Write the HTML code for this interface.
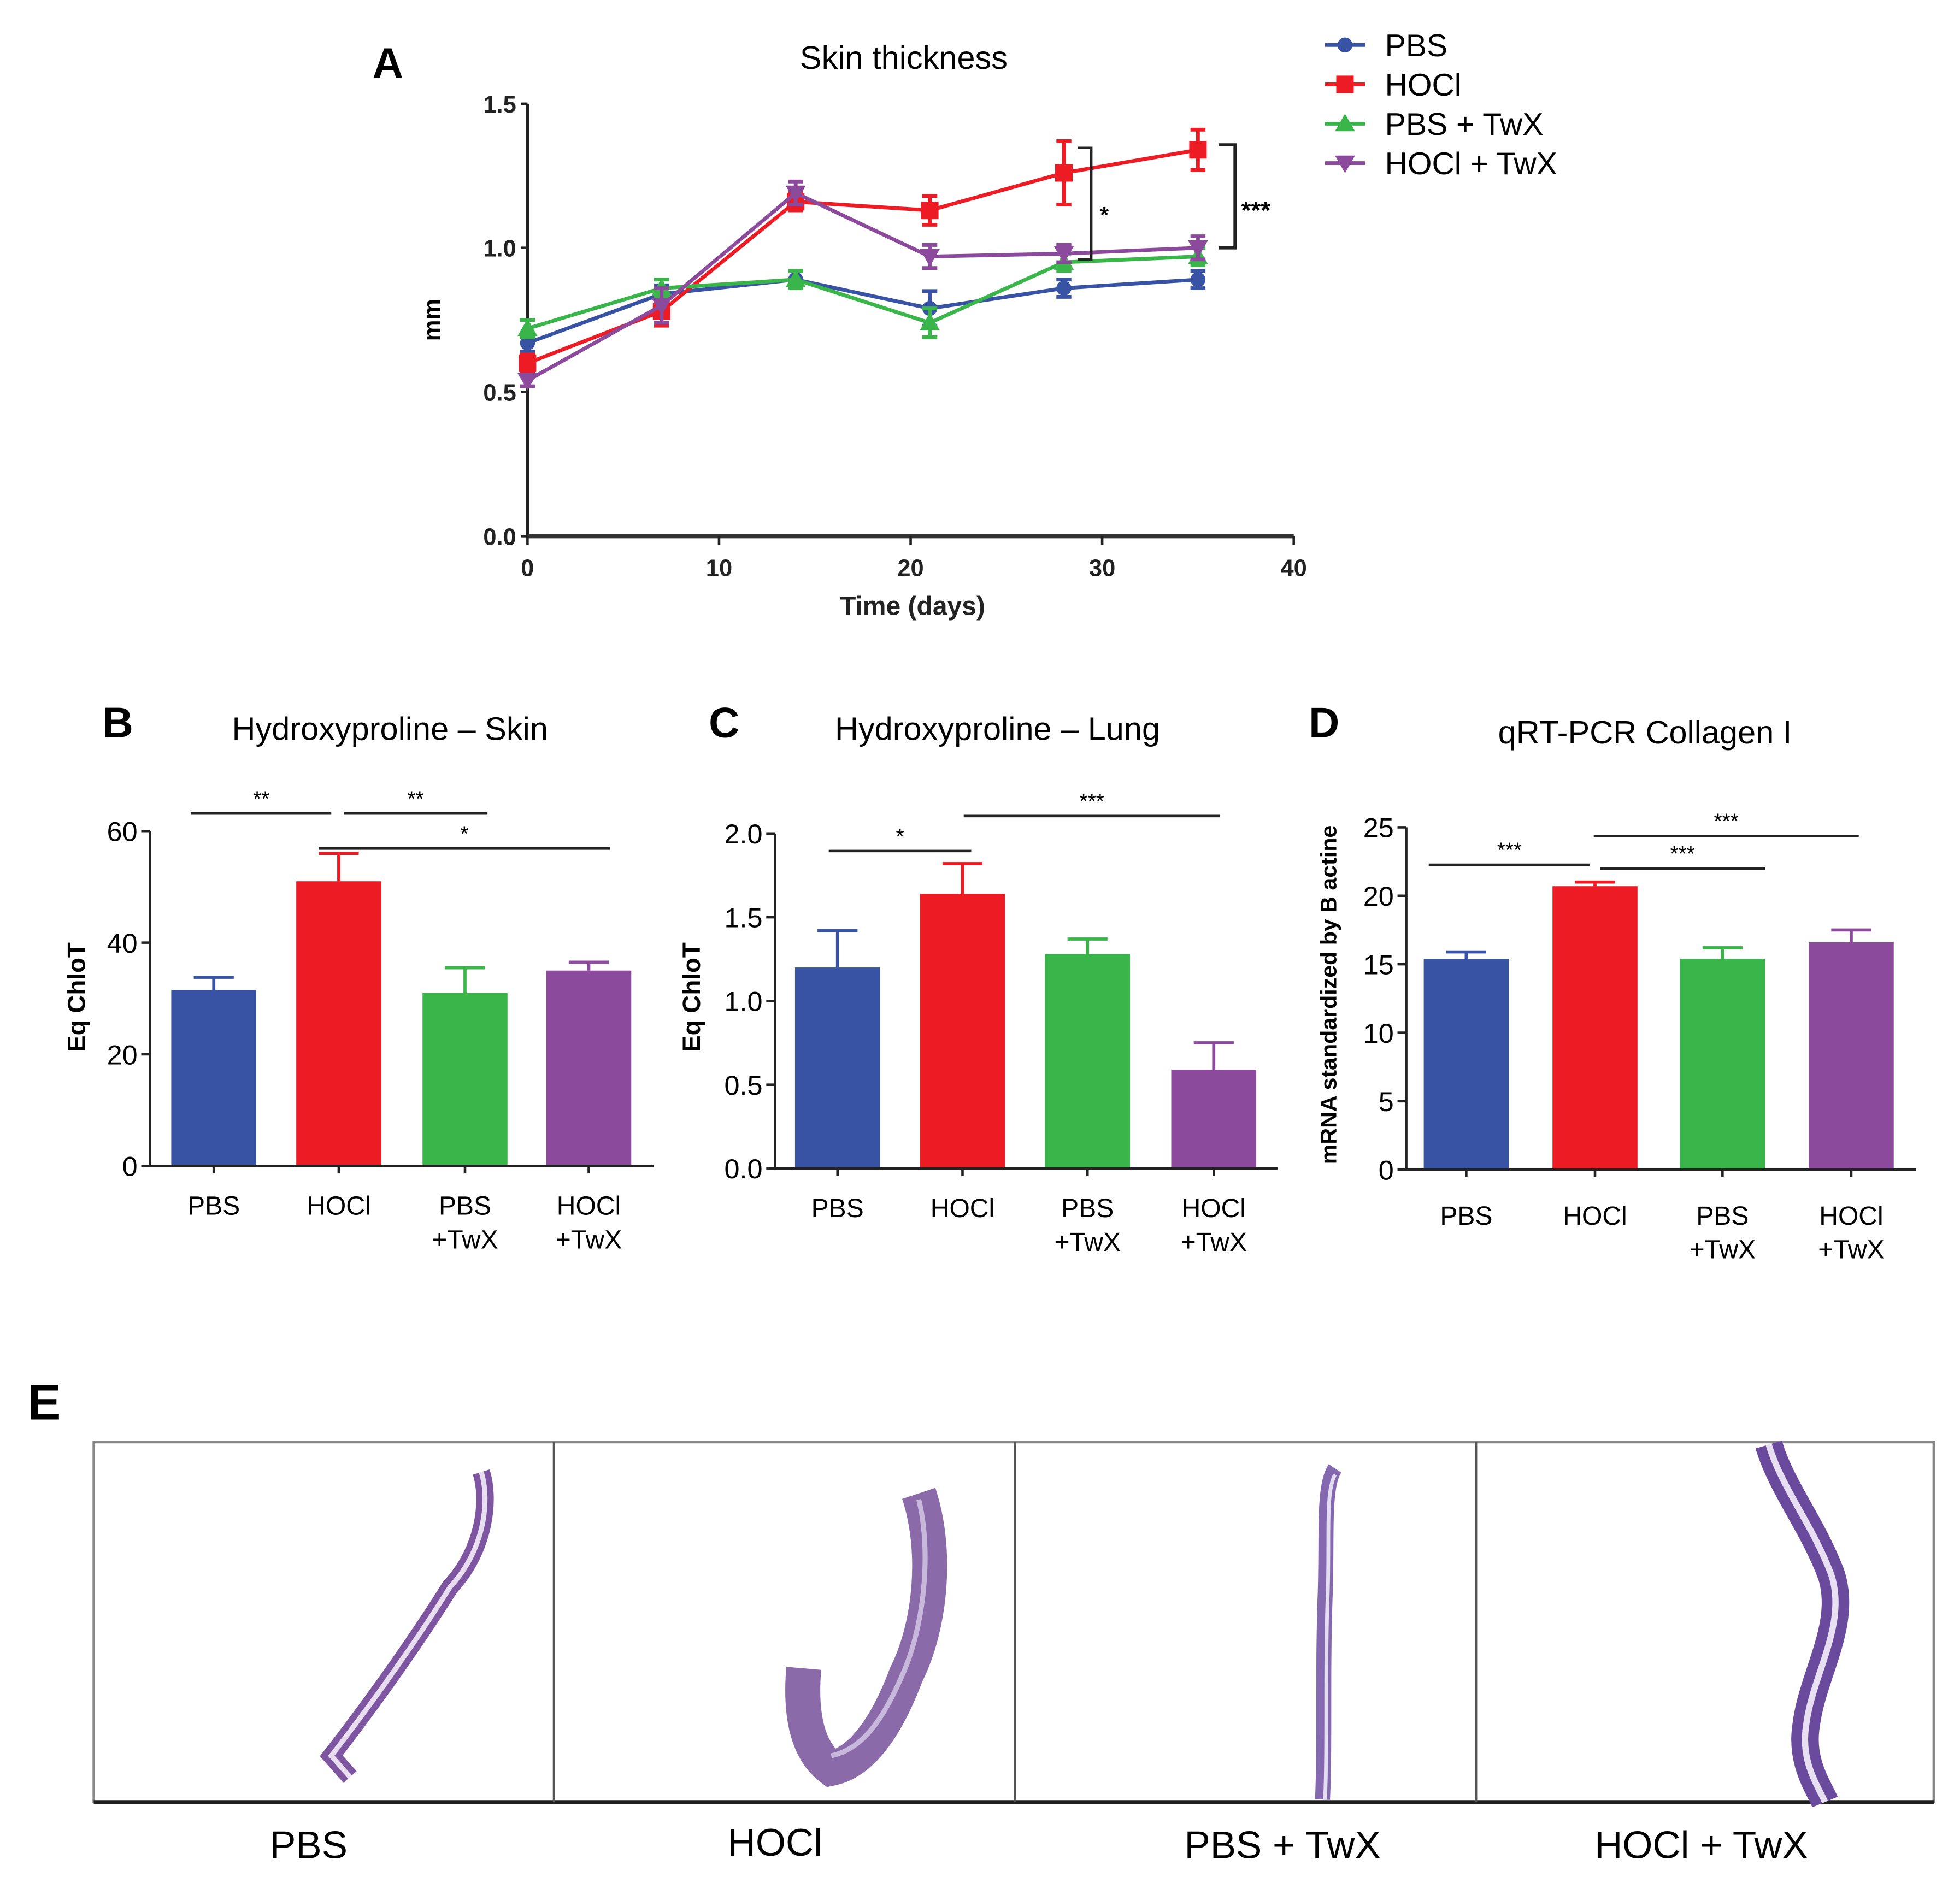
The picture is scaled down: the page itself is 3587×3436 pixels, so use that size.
<!DOCTYPE html>
<html><head><meta charset="utf-8"><style>
html,body{margin:0;padding:0;background:#fff}
svg{display:block}
text{font-family:"Liberation Sans",Arial,sans-serif}
</style></head><body>
<svg id="fig" xmlns="http://www.w3.org/2000/svg" width="3587" height="3436" viewBox="0 0 1568 1502">
<rect width="1568" height="1502" fill="#fff"/>
<g id="A"></g>
<g id="B"></g>
<g id="C"></g>
<g id="D"></g>
<g id="E">
 <text x="22" y="1136" font-size="40" font-weight="bold">E</text>
 <rect x="75" y="1154" width="1472" height="288" fill="none" stroke="#888" stroke-width="2"/>
 <line x1="75" y1="1442" x2="1547" y2="1442" stroke="#222" stroke-width="3"/>
 <line x1="443" y1="1154" x2="443" y2="1442" stroke="#555" stroke-width="1.5"/>
 <line x1="812" y1="1154" x2="812" y2="1442" stroke="#555" stroke-width="1.5"/>
 <line x1="1181" y1="1154" x2="1181" y2="1442" stroke="#555" stroke-width="1.5"/>
 <g fill="none" stroke="#7d55a0">
  <path d="M385,1178 C392,1200 388,1240 360,1270 C335,1310 300,1360 265,1405 L280,1422" stroke-width="14"/>
  <path d="M385,1178 C392,1200 388,1240 360,1270 C335,1310 300,1360 265,1405 L280,1422" stroke="#e8def0" stroke-width="4"/>
 </g>
 <g fill="none" stroke="#8a6aa8">
  <path d="M735,1195 C750,1240 745,1300 725,1340 C710,1380 690,1410 665,1415 C645,1400 640,1370 643,1335" stroke-width="28"/>
  <path d="M735,1200 C745,1240 740,1300 722,1340 C705,1380 688,1400 665,1405" stroke="#c8b8dc" stroke-width="4"/>
 </g>
 <g fill="none" stroke="#8468b0">
  <path d="M1068,1175 C1058,1190 1062,1230 1060,1280 C1058,1340 1060,1400 1058,1440" stroke-width="12"/>
  <path d="M1068,1180 C1060,1195 1064,1230 1062,1280 C1060,1340 1062,1400 1060,1440" stroke="#e4dcf0" stroke-width="3"/>
 </g>
 <g fill="none" stroke="#6a4a9c">
  <path d="M1415,1156 C1425,1190 1450,1220 1465,1260 C1478,1300 1450,1340 1445,1380 C1440,1410 1455,1430 1460,1442" stroke-width="22"/>
  <path d="M1415,1156 C1425,1190 1450,1220 1465,1260 C1478,1300 1450,1340 1445,1380 C1440,1410 1455,1430 1460,1442" stroke="#e8e0f2" stroke-width="5"/>
 </g>
 <text x="247" y="1487" font-size="31" text-anchor="middle">PBS</text>
 <text x="620" y="1485" font-size="31" text-anchor="middle">HOCl</text>
 <text x="1026" y="1487" font-size="31" text-anchor="middle">PBS + TwX</text>
 <text x="1361" y="1487" font-size="31" text-anchor="middle">HOCl + TwX</text>
</g>
</svg>
<script>
const NS="http://www.w3.org/2000/svg";
const colors=["#3953a4","#ed1c24","#39b54a","#8b4a9c"];
// Panel A data
const daysA=[0,7,14,21,28,35];
const pbsA=[0.67,0.84,0.89,0.79,0.86,0.89];
const pbsErrA=[0.03,0.03,0.03,0.06,0.03,0.03];
const hoclA=[0.60,0.78,1.16,1.13,1.26,1.34];
const hoclErrA=[0.03,0.05,0.03,0.05,0.11,0.07];
const pbsTwxA=[0.72,0.86,0.89,0.74,0.95,0.97];
const pbsTwxErrA=[0.03,0.03,0.03,0.05,0.03,0.03];
const hoclTwxA=[0.54,0.80,1.19,0.97,0.98,1.00];
const hoclTwxErrA=[0.02,0.06,0.04,0.04,0.03,0.04];
const seriesNamesA=["PBS","HOCl","PBS + TwX","HOCl + TwX"];
const xTicksA=[0,10,20,30,40];
const yTicksA=[0.0,0.5,1.0,1.5];
// Bars
const groups=["PBS","HOCl","PBS\n+TwX","HOCl\n+TwX"];
const skinVals=[31.5,51,31,35];
const skinErr=[2.3,5,4.5,1.5];
const skinTicks=[0,20,40,60];
const lungVals=[1.2,1.64,1.28,0.59];
const lungErr=[0.22,0.18,0.09,0.16];
const lungTicks=["0.0","0.5","1.0","1.5","2.0"];
const colVals=[15.4,20.7,15.4,16.6];
const colErr=[0.5,0.3,0.8,0.9];
const colTicks=[0,5,10,15,20,25];

function el(tag,attrs,parent,txt){const e=document.createElementNS(NS,tag);for(const k in attrs)e.setAttribute(k,attrs[k]);if(txt!==undefined)e.textContent=txt;parent.appendChild(e);return e;}

// ---- Panel A ----
(function(){
 const g=document.getElementById("A");
 const x0=422,x1=1035,y0=429,y1=83;
 const xs=d=>x0+(d/40)*(x1-x0), ys=v=>y0-(v/1.5)*(y0-y1);
 let t=el("text",{x:298,y:62,"font-size":34,"font-weight":"bold"},g,"A");
 
 
 t=el("text",{x:723,y:55,"font-size":26,"text-anchor":"middle"},g,"Skin thickness");
 
 
 let a=el("line",{x1:x0,y1:y1,x2:x0,y2:y0,stroke:"#222","stroke-width":2.5},g);
 
 
 a=el("line",{x1:x0,y1:y0,x2:x1,y2:y0,stroke:"#333","stroke-width":3.5},g);
 
 
 yTicksA.forEach(v=>{el("line",{x1:x0-5,y1:ys(v),x2:x0,y2:ys(v),stroke:"#222","stroke-width":2},g);
  const l=el("text",{x:x0-9,y:ys(v)+7,"font-size":19,"font-weight":"bold","text-anchor":"end",fill:"#222"},g,v.toFixed(1));
  
  });
 xTicksA.forEach(v=>{el("line",{x1:xs(v),y1:y0,x2:xs(v),y2:y0+7,stroke:"#222","stroke-width":2},g);
  const l=el("text",{x:xs(v),y:y0+32,"font-size":19,"font-weight":"bold","text-anchor":"middle",fill:"#222"},g,String(v));
  
  });
 t=el("text",{x:730,y:492,"font-size":21,"font-weight":"bold","text-anchor":"middle",fill:"#222"},g,"Time (days)");
 
 
 t=el("text",{x:0,y:0,"font-size":19,"font-weight":"bold","text-anchor":"middle",transform:"translate(352,256) rotate(-90)"},g,"mm");
 
 
 const S=[pbsA,hoclA,pbsTwxA,hoclTwxA],E=[pbsErrA,hoclErrA,pbsTwxErrA,hoclTwxErrA];
 S.forEach((s,i)=>{
  const sg=el("g",{},g);
  
  
  el("polyline",{points:s.map((v,j)=>xs(daysA[j])+","+ys(v)).join(" "),fill:"none",stroke:colors[i],"stroke-width":3},sg);
  s.forEach((v,j)=>{const cx=xs(daysA[j]);
   el("line",{x1:cx,y1:ys(v+E[i][j]),x2:cx,y2:ys(v-E[i][j]),stroke:colors[i],"stroke-width":3},sg);
   el("line",{x1:cx-6,y1:ys(v+E[i][j]),x2:cx+6,y2:ys(v+E[i][j]),stroke:colors[i],"stroke-width":3},sg);
   el("line",{x1:cx-6,y1:ys(v-E[i][j]),x2:cx+6,y2:ys(v-E[i][j]),stroke:colors[i],"stroke-width":3},sg);
   let m;
   if(i===0)m=el("circle",{cx:cx,cy:ys(v),r:6,fill:colors[i]},sg);
   else if(i===1)m=el("rect",{x:cx-7,y:ys(v)-7,width:14,height:14,fill:colors[i]},sg);
   else if(i===2)m=el("polygon",{points:`${cx},${ys(v)-8} ${cx-8},${ys(v)+6} ${cx+8},${ys(v)+6}`,fill:colors[i]},sg);
   else m=el("polygon",{points:`${cx},${ys(v)+8} ${cx-8},${ys(v)-6} ${cx+8},${ys(v)-6}`,fill:colors[i]},sg);
   
   
  });
 });
 // significance brackets
 const b1=el("path",{d:`M862,${ys(1.26)-20} H873 V${ys(0.96)} H862`,fill:"none",stroke:"#222","stroke-width":2},g);
 
 
 t=el("text",{x:880,y:178,"font-size":18,"font-weight":"bold"},g,"*");
 
 
 const b2=el("path",{d:`M975,${ys(1.34)-4} H988 V${ys(1.0)} H975`,fill:"none",stroke:"#222","stroke-width":2.5},g);
 
 
 t=el("text",{x:993,y:175,"font-size":20,"font-weight":"bold"},g,"***");
 
 
 // legend
 seriesNamesA.forEach((n,i)=>{const ly=36+i*31.5;const lg=el("g",{},g);
  
  
  el("line",{x1:1060,y1:ly,x2:1092,y2:ly,stroke:colors[i],"stroke-width":3},lg);
  if(i===0)el("circle",{cx:1076,cy:ly,r:6,fill:colors[i]},lg);
  else if(i===1)el("rect",{x:1069,y:ly-7,width:14,height:14,fill:colors[i]},lg);
  else if(i===2)el("polygon",{points:`1076,${ly-8} 1068,${ly+6} 1084,${ly+6}`,fill:colors[i]},lg);
  else el("polygon",{points:`1076,${ly+8} 1068,${ly-6} 1084,${ly-6}`,fill:colors[i]},lg);
  el("text",{x:1108,y:ly+9,"font-size":25},lg,n);});
})();

// ---- Bar panels ----
function barPanel(id,cfg){
 const g=document.getElementById(id);
 const {ax,ay0,ay1,axEnd,max,ticks,vals,errs,centers,bw,label,lx,title,tx,ylab,ylx,yly,sig}=cfg;
 const ys=v=>ay0-(v/max)*(ay0-ay1);
 let t=el("text",{x:lx,y:590,"font-size":34,"font-weight":"bold"},g,label);
 
 
 t=el("text",{x:tx,y:cfg.ty||592,"font-size":26,"text-anchor":"middle"},g,title);
 
 
 vals.forEach((v,i)=>{const cx=centers[i];
  const e=errs[i];
  const eb=el("path",{d:`M${cx},${ys(v)} V${ys(v+e)} M${cx-16},${ys(v+e)} H${cx+16}`,stroke:colors[i],"stroke-width":2.5,fill:"none"},g);
  
  
  const r=el("rect",{x:cx-bw/2,y:ys(v),width:bw,height:ay0-ys(v),fill:colors[i]},g);
  
  
  el("line",{x1:cx,y1:ay0,x2:cx,y2:ay0+6,stroke:"#222","stroke-width":2},g);
  groups[i].split("\n").forEach((s,k)=>{const l=el("text",{x:cx,y:ay0+cfg.gy+k*27,"font-size":21,"text-anchor":"middle"},g,s);
   
   });
 });
 let a=el("line",{x1:ax,y1:ay1,x2:ax,y2:ay0,stroke:"#222","stroke-width":2},g);
 
 
 a=el("line",{x1:ax,y1:ay0,x2:axEnd,y2:ay0,stroke:"#222","stroke-width":2},g);
 
 
 ticks.forEach(tk=>{const v=parseFloat(tk);el("line",{x1:ax-7,y1:ys(v),x2:ax,y2:ys(v),stroke:"#222","stroke-width":2},g);
  const l=el("text",{x:ax-10,y:ys(v)+8,"font-size":22,"text-anchor":"end"},g,String(tk));
  
  });
 t=el("text",{x:0,y:0,"font-size":cfg.ylfs||20,"font-weight":"bold","text-anchor":"middle",transform:`translate(${ylx},${yly}) rotate(-90)`},g,ylab);
 
 
 sig.forEach(s=>{const ln=el("line",{x1:s[0],y1:s[2],x2:s[1],y2:s[2],stroke:"#222","stroke-width":2},g);
  
  
  const st=el("text",{x:(s[0]+s[1])/2,y:s[2]-6,"font-size":17,"text-anchor":"middle"},g,s[3]);
  
  });
}
barPanel("B",{ax:120,ay0:933,ay1:665,axEnd:523,max:60,ticks:skinTicks,vals:skinVals,errs:skinErr,centers:[171,271,372,471],bw:68,label:"B",lx:82,title:"Hydroxyproline  \u2013 Skin",tx:312,ylab:"Eq ChloT",ylx:68,yly:798,gy:39,
 sig:[[153,265,651,"**"],[275,390,651,"**"],[255,488,679,"*"]]});
barPanel("C",{ax:620,ay0:935,ay1:667,axEnd:1022,max:2,ticks:lungTicks,vals:lungVals,errs:lungErr,centers:[670,770,870,971],bw:68,label:"C",lx:567,title:"Hydroxyproline  \u2013 Lung",tx:798,ylab:"Eq ChloT",ylx:560,yly:798,gy:39,
 sig:[[663,777,681,"*"],[771,976,653,"***"]]});
barPanel("D",{ax:1125,ay0:936,ay1:662,axEnd:1533,max:25,ticks:colTicks,vals:colVals,errs:colErr,centers:[1173,1276,1378,1481],bw:68,label:"D",lx:1047,title:"qRT-PCR Collagen  I",tx:1316,ty:595,ylab:"mRNA standardized by B actine",ylx:1069,yly:796,ylfs:18,gy:44,
 sig:[[1143,1272,692,"***"],[1280,1412,695,"***"],[1275,1487,669,"***"]]});
</script>
</body></html>
